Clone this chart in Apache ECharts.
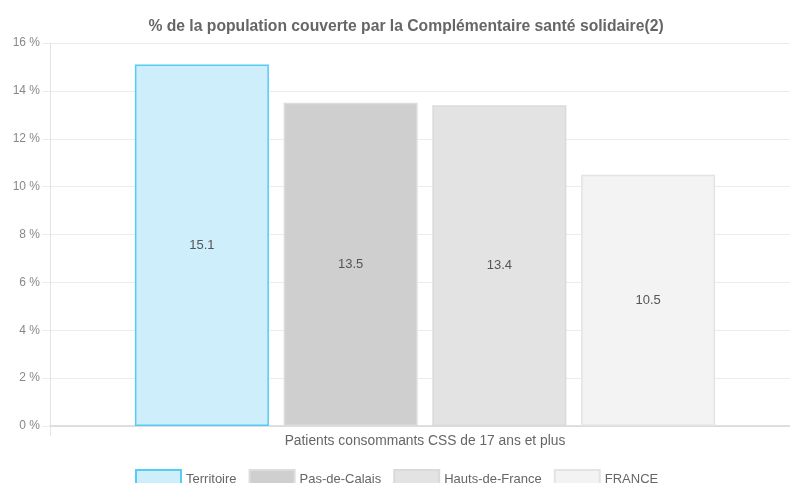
<!DOCTYPE html>
<html>
<head>
<meta charset="utf-8">
<script src="https://cdn.jsdelivr.net/npm/echarts@6/dist/echarts.min.js"></script>
<style>
  html, body { margin: 0; padding: 0; background: #fff; }
  #chart { width: 790px; height: 483px; }
</style>
</head>
<body>
<div id="chart"></div>
<script>
  var categories = ['Patients consommants CSS de 17 ans et plus']
  var territoire = [15.1]
  var pasDeCalais = [13.5]
  var hautsDeFrance = [13.4]
  var france = [10.5]
  var legendNames = ['Territoire', 'Pas-de-Calais', 'Hauts-de-France', 'FRANCE']
  var yMin = 0
  var yMax = 16
  var yStep = 2

  var labelOption = {
    show: true,
    position: 'inside',
    color: '#555',
    fontSize: 13,
    fontFamily: 'Liberation Sans'
  }

  // bars sit on a second grid, shifted a bit to the right like the original
  function barSerie (name, data, fill, border) {
    return {
      name: name,
      type: 'bar',
      xAxisIndex: 1,
      yAxisIndex: 1,
      barWidth: 134,
      barGap: '11%',
      label: labelOption,
      itemStyle: {
        color: fill,
        borderColor: border,
        borderWidth: 1.5
      },
      data: data
    }
  }

  var option = {
    animation: false,
    textStyle: { fontFamily: 'Liberation Sans' },
    title: {
      text: '% de la population couverte par la Complémentaire santé solidaire(2)',
      left: 401,
      textAlign: 'center',
      top: 14,
      textStyle: {
        fontWeight: 'bold',
        fontFamily: 'Liberation Sans',
        fontSize: 15.7,
        color: '#666'
      }
    },
    legend: {
      data: legendNames,
      left: 130,
      top: 464,
      icon: 'rect',
      itemWidth: 45,
      itemHeight: 18,
      itemGap: 12,
      textStyle: { color: '#666', fontSize: 13 }
    },
    grid: [
      { left: 50, right: 0, top: 43, bottom: 57 },
      { left: 60, right: 0, top: 43, bottom: 57 }
    ],
    xAxis: [
      {
        type: 'category',
        gridIndex: 0,
        data: categories,
        axisLine: { lineStyle: { color: '#d6d6d6', width: 1.5 } },
        axisTick: { show: true, length: 10, lineStyle: { color: '#e3e3e3' } },
        axisLabel: { show: false }
      },
      {
        type: 'category',
        gridIndex: 1,
        data: categories,
        axisLine: { show: false },
        axisTick: { show: false },
        axisLabel: { color: '#666', fontSize: 13.8, margin: 8 }
      }
    ],
    yAxis: [
      {
        type: 'value',
        gridIndex: 0,
        min: yMin,
        max: yMax,
        interval: yStep,
        axisLine: { show: true, lineStyle: { color: '#e3e3e3' } },
        axisTick: { show: true, length: 8, lineStyle: { color: '#ececec' } },
        splitLine: { lineStyle: { color: '#ececec' } },
        axisLabel: { formatter: '{value} %', color: '#888', fontSize: 12, margin: 10 }
      },
      {
        type: 'value',
        gridIndex: 1,
        min: yMin,
        max: yMax,
        interval: yStep,
        show: false
      }
    ],
    series: [
      barSerie('Territoire', territoire, '#cdeefa', '#55ccf4'),
      barSerie('Pas-de-Calais', pasDeCalais, '#cfcfcf', '#dcdcdc'),
      barSerie('Hauts-de-France', hautsDeFrance, '#e3e3e3', '#dadada'),
      barSerie('FRANCE', france, '#f3f3f3', '#e3e3e3')
    ]
  }

  var chart = echarts.init(document.getElementById('chart'))
  chart.setOption(option)
</script>
</body>
</html>
